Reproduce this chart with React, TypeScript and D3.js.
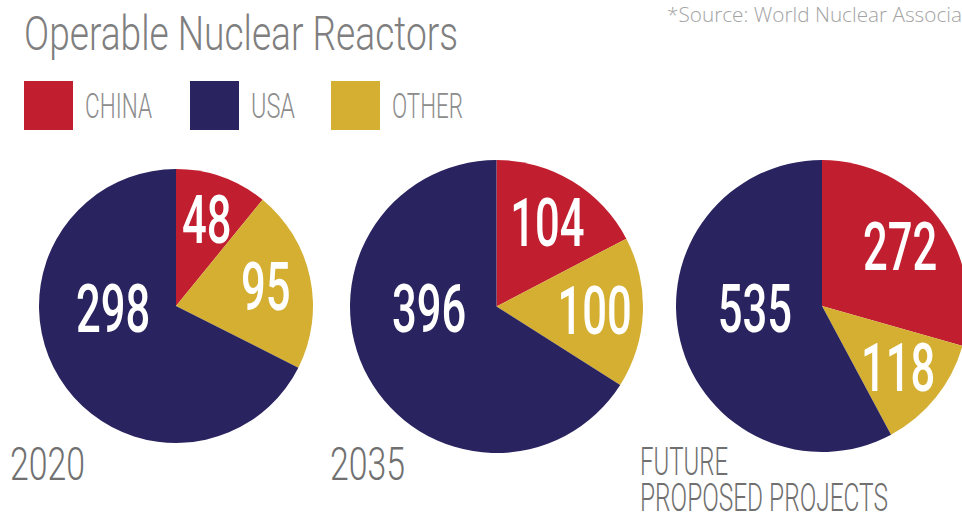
import React from "react";
import * as d3 from "d3";

const categories = ["CHINA", "USA", "OTHER"];
const colors = ["#C11F30", "#29245F", "#D4AF32"];
const pieTitles = [["2020"], ["2035"], ["FUTURE", "PROPOSED PROJECTS"]];
const chinaValues = [48, 104, 272];
const otherValues = [95, 100, 118];
const usaValues = [298, 396, 535];

// layout constants
const pieCenters = [
  [176, 306],
  [496.5, 306.5],
  [822, 306],
];
const pieRadii = [137, 146.5, 146];

type Slice = { cat: string; value: number; color: string };

export default function App() {
  const pieGen = d3
    .pie<Slice>()
    .sort(null)
    .value((d) => d.value);

  const pies = chinaValues.map((c, i) => {
    // drawing order clockwise from top: China, Other, USA
    const slices: Slice[] = [
      { cat: "CHINA", value: c, color: colors[0] },
      { cat: "OTHER", value: otherValues[i], color: colors[2] },
      { cat: "USA", value: usaValues[i], color: colors[1] },
    ];
    return pieGen(slices);
  });

  const numScale = 0.66;
  const numSize = 66;

  return (
    <svg
      width={962}
      height={515}
      style={{ position: "absolute", left: 0, top: 0, overflow: "hidden", background: "#fff" }}
    >
      <rect width={962} height={515} fill="#fff" />
      {/* Title */}
      <text
        x={24}
        y={50}
        fontFamily="Roboto"
        fontWeight={300}
        fontSize={49}
        fill="#7f7f7f"
        textLength={434}
        lengthAdjust="spacingAndGlyphs"
      >
        Operable Nuclear Reactors
      </text>
      {/* Source */}
      <text
        x={667}
        y={22}
        fontFamily="'Open Sans'"
        fontWeight={300}
        fontSize={19.5}
        fill="#a3a3a3"
        textLength={331}
        lengthAdjust="spacingAndGlyphs"
      >
        *Source: World Nuclear Association
      </text>
      {/* Legend */}
      {categories.map((cat, i) => {
        const xs = [24, 190, 331];
        const tl = [67, 44, 71];
        return (
          <g key={cat}>
            <rect x={xs[i]} y={81} width={49} height={49} fill={colors[i]} />
            <text
              x={xs[i] + 61}
              y={118}
              fontFamily="Roboto"
              fontWeight={300}
              fontSize={35}
              fill="#8c8c8c"
              textLength={tl[i]}
              lengthAdjust="spacingAndGlyphs"
            >
              {cat}
            </text>
          </g>
        );
      })}
      {/* Pies */}
      {pies.map((arcs, i) => {
        const [cx, cy] = pieCenters[i];
        const r = pieRadii[i];
        const arcGen = d3.arc<d3.PieArcDatum<Slice>>().innerRadius(0).outerRadius(r);
        return (
          <g key={i} transform={`translate(${cx},${cy})`}>
            {arcs.map((a) => (
              <path key={a.data.cat} d={arcGen(a) || ""} fill={a.data.color} />
            ))}
            {arcs.map((a) => {
              let ang: number;
              let rr: number;
              if (a.data.cat === "USA") {
                ang = (268 * Math.PI) / 180;
                rr = 0.46 * r;
              } else {
                ang = (a.startAngle + a.endAngle) / 2;
                rr = 0.67 * r;
              }
              const lx = Math.sin(ang) * rr;
              const ly = -Math.cos(ang) * rr;
              return (
                <g key={a.data.cat + "l"} transform={`translate(${lx},${ly}) scale(${numScale},1)`}>
                  <text
                    x={0}
                    y={numSize * 0.355}
                    textAnchor="middle"
                    fontFamily="Roboto"
                    fontWeight={500}
                    fontSize={numSize}
                    fill="#ffffff"
                  >
                    {a.data.value}
                  </text>
                </g>
              );
            })}
          </g>
        );
      })}
      {/* Pie titles */}
      {pieTitles.map((lines, i) => {
        const xs = [10, 330, 640];
        if (lines.length === 1) {
          return (
            <text
              key={i}
              x={xs[i]}
              y={480}
              fontFamily="Roboto"
              fontWeight={300}
              fontSize={47}
              fill="#707070"
              textLength={75}
              lengthAdjust="spacingAndGlyphs"
            >
              {lines[0]}
            </text>
          );
        }
        const tls = [88, 248];
        const ys = [475, 511];
        return (
          <g key={i}>
            {lines.map((ln, j) => (
              <text
                key={j}
                x={xs[i]}
                y={ys[j]}
                fontFamily="Roboto"
                fontWeight={300}
                fontSize={39}
                fill="#707070"
                textLength={tls[j]}
                lengthAdjust="spacingAndGlyphs"
              >
                {ln}
              </text>
            ))}
          </g>
        );
      })}
    </svg>
  );
}
